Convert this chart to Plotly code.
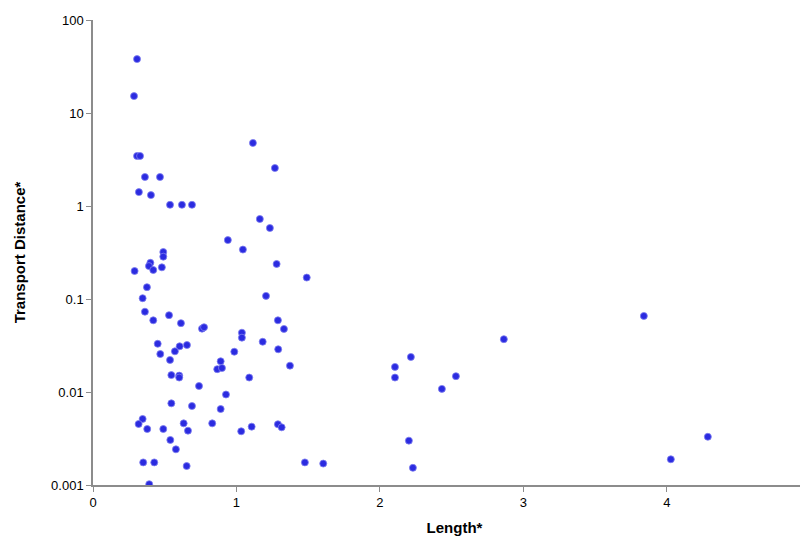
import plotly.graph_objects as go

# Length* (x) and Transport Distance* (y)
length = [0.307, 0.286, 0.307, 0.328, 0.362, 0.467, 0.32, 0.404, 0.537, 0.62, 0.69,
          1.115, 1.268, 1.163, 1.233, 0.94,
          0.29, 0.40, 0.39, 0.42, 0.48, 0.49, 0.49, 1.045, 1.28, 1.49,
          0.376, 0.346, 0.362, 0.42, 0.53, 0.613, 1.206, 0.76, 0.774, 1.038, 1.038,
          1.289, 1.331, 1.183, 1.291, 1.373, 0.451, 0.469, 0.604, 0.655, 0.571, 0.537,
          0.546, 0.601, 0.601, 0.89, 0.866, 0.899, 0.985, 1.089, 0.739, 0.927,
          0.546, 0.69, 0.89, 0.346, 0.318, 0.378, 0.49, 0.632, 0.662, 0.831,
          1.033, 1.106, 1.289, 1.315, 0.539, 0.578, 0.35, 0.427, 0.653, 1.477,
          1.605, 0.392,
          2.105, 2.105, 2.216, 2.202, 2.23, 2.432, 2.53, 2.864, 3.84, 4.028, 4.286]
distance = [38, 15.2, 3.45, 3.45, 2.05, 2.05, 1.41, 1.31, 1.03, 1.03, 1.03,
            4.76, 2.56, 0.725, 0.58, 0.43,
            0.20, 0.245, 0.226, 0.205, 0.219, 0.32, 0.285, 0.34, 0.238, 0.17,
            0.134, 0.102, 0.073, 0.059, 0.067, 0.055, 0.108, 0.048, 0.0497, 0.0434, 0.0384,
            0.059, 0.0476, 0.0347, 0.0288, 0.0192, 0.033, 0.0256, 0.031, 0.032, 0.0274, 0.0221,
            0.0152, 0.015, 0.0143, 0.0214, 0.0176, 0.0181, 0.0271, 0.0143, 0.0116, 0.0094,
            0.00755, 0.00707, 0.00656, 0.00513, 0.00453, 0.004, 0.004, 0.0046, 0.00384, 0.0046,
            0.00378, 0.00424, 0.0045, 0.00417, 0.00305, 0.00242, 0.00175, 0.00175, 0.0016, 0.00175,
            0.0017, 0.00102,
            0.0186, 0.0143, 0.0238, 0.0030, 0.00153, 0.0108, 0.0148, 0.037, 0.0657, 0.00189, 0.0033]

y_ticks = [0.001, 0.01, 0.1, 1, 10, 100]
y_labels = ["0.001", "0.01", "0.1", "1", "10", "100"]

fig = go.Figure(go.Scatter(
    x=length, y=distance, mode="markers",
    marker=dict(color="#2b2be0", size=7, line=dict(color="#7f7ff0", width=0.8)),
))

axis_style = dict(showline=True, linecolor="#8c8c8c", linewidth=1.5, ticks="outside",
                  tickcolor="#8c8c8c", ticklen=5, showgrid=False, zeroline=False,
                  automargin=False, tickfont=dict(size=13, color="black"))

# the page sits 8px in from the window corner, so margins are 8px smaller
fig.update_layout(
    width=808, height=536,
    margin=dict(l=85, r=0, t=12, b=59),
    plot_bgcolor="white", paper_bgcolor="white",
    font=dict(family="Liberation Sans, Arial", color="black"),
    showlegend=False,
    xaxis=dict(range=[0, 5.04], tickvals=[0, 1, 2, 3, 4],
               title=dict(text="<b>Length*</b>", font=dict(size=15), standoff=13), **axis_style),
    yaxis=dict(type="log", range=[-3, 2], tickvals=y_ticks, ticktext=y_labels,
               title=dict(text="<b>Transport Distance*</b>", font=dict(size=15), standoff=22),
               **axis_style),
)

fig.write_html("out.html")
